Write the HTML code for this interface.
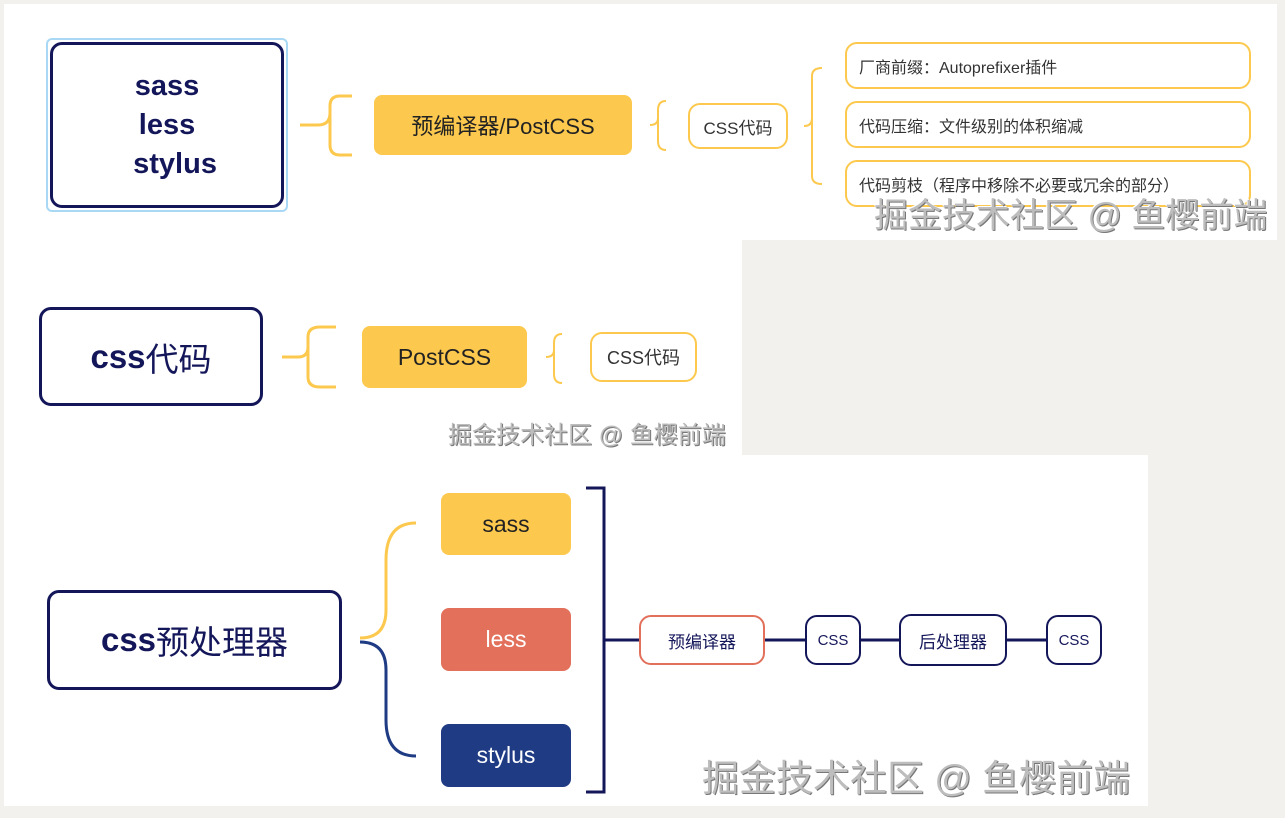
<!DOCTYPE html>
<html><head><meta charset="utf-8"><style>
*{margin:0;padding:0;box-sizing:border-box}
body{width:1285px;height:818px;background:#f2f1ee;position:relative;overflow:hidden;font-family:"Liberation Sans","Noto Sans CJK SC",sans-serif}
.p{position:absolute;background:#fff}
.b{position:absolute;display:flex;align-items:center;justify-content:center;text-align:center;color:#14165a}
.wm{position:absolute;color:#bdbdbd;font-family:"Liberation Sans","Noto Sans CJK SC",sans-serif;text-shadow:1px 1px 0 #777,-1px -1px 0 #fff;white-space:nowrap}
svg{position:absolute;left:0;top:0}
</style></head><body>
<div class="p" style="left:4px;top:4px;width:1273px;height:236px"></div>
<div class="p" style="left:4px;top:240px;width:738px;height:215px"></div>
<div class="p" style="left:4px;top:455px;width:1144px;height:351px"></div>

<svg width="1285" height="818" fill="none">
<path d="M300 125 H318 Q330 125 330 113 V106 Q330 96 340 96 H352 M330 137 V145 Q330 155 340 155 H352 M330 113 V137" stroke="#fcc94e" stroke-width="3"/>
<path d="M650 125 Q658 125 658 118 V110 Q658 101 666 101 M658 132 V141 Q658 150 666 150 M658 118 V132" stroke="#fcc94e" stroke-width="2"/>
<path d="M804 126 Q812 126 812 118 V76 Q812 68 822 68 M812 134 V176 Q812 184 822 184 M812 118 V134" stroke="#fcc94e" stroke-width="2"/>
<path d="M282 357 H298 Q308 357 308 347 V337 Q308 327 320 327 H336 M308 367 V377 Q308 387 320 387 H336 M308 347 V367" stroke="#fcc94e" stroke-width="3"/>
<path d="M546 357 Q554 357 554 350 V343 Q554 334 562 334 M554 364 V374 Q554 383 562 383 M554 350 V364" stroke="#fcc94e" stroke-width="2"/>
<path d="M360 638 Q386 638 386 610 V560 Q386 523 416 523" stroke="#fcc94e" stroke-width="3"/>
<path d="M360 642 Q386 642 386 670 V720 Q386 756 416 756" stroke="#1f3b84" stroke-width="3"/>
<path d="M586 488 H604 V792 H586" stroke="#14165a" stroke-width="3"/>
<path d="M604 640 H640 M764 640 H806 M860 640 H900 M1006 640 H1046" stroke="#14165a" stroke-width="3"/>
</svg>

<div class="b" style="left:46px;top:38px;width:242px;height:174px;border:2px solid #a9d8f5;border-radius:6px"></div>
<div class="b" style="left:50px;top:42px;width:234px;height:166px;border:3px solid #14165a;border-radius:12px;font-size:29px;font-weight:bold;line-height:39px">sass<br>less<br>&nbsp;&nbsp;stylus</div>
<div class="b" style="left:374px;top:95px;width:258px;height:60px;background:#fcc94e;border-radius:8px;font-size:22px;color:#222">预编译器/PostCSS</div>
<div class="b" style="left:688px;top:103px;width:100px;height:46px;border:2px solid #fcc94e;border-radius:12px;font-size:17px;color:#333">CSS代码</div>
<div class="b" style="left:845px;top:42px;width:406px;height:47px;border:2px solid #fcc94e;border-radius:12px;font-size:16px;color:#333;justify-content:flex-start;padding-left:12px">厂商前缀：Autoprefixer插件</div>
<div class="b" style="left:845px;top:101px;width:406px;height:47px;border:2px solid #fcc94e;border-radius:12px;font-size:16px;color:#333;justify-content:flex-start;padding-left:12px">代码压缩：文件级别的体积缩减</div>
<div class="b" style="left:845px;top:160px;width:406px;height:47px;border:2px solid #fcc94e;border-radius:12px;font-size:16px;color:#333;justify-content:flex-start;padding-left:12px">代码剪枝（程序中移除不必要或冗余的部分）</div>
<div class="wm" style="left:874px;top:188px;font-size:34px">掘金技术社区 @ 鱼樱前端</div>

<div class="b" style="left:39px;top:307px;width:224px;height:99px;border:3px solid #14165a;border-radius:12px;font-size:33px;font-weight:bold">css<span style="font-weight:normal">代码</span></div>
<div class="b" style="left:362px;top:326px;width:165px;height:62px;background:#fcc94e;border-radius:8px;font-size:23px;color:#222">PostCSS</div>
<div class="b" style="left:590px;top:332px;width:107px;height:50px;border:2px solid #fcc94e;border-radius:12px;font-size:18px;color:#333">CSS代码</div>
<div class="wm" style="left:448px;top:415px;font-size:24px">掘金技术社区 @ 鱼樱前端</div>

<div class="b" style="left:47px;top:590px;width:295px;height:100px;border:3px solid #14165a;border-radius:12px;font-size:33px"><b>css</b>预处理器</div>
<div class="b" style="left:441px;top:493px;width:130px;height:62px;background:#fcc94e;border-radius:8px;font-size:23px;color:#222">sass</div>
<div class="b" style="left:441px;top:608px;width:130px;height:63px;background:#e2705b;border-radius:8px;font-size:23px;color:#fff">less</div>
<div class="b" style="left:441px;top:724px;width:130px;height:63px;background:#1f3b84;border-radius:8px;font-size:23px;color:#fff">stylus</div>
<div class="b" style="left:639px;top:615px;width:126px;height:50px;border:2px solid #e2705b;border-radius:12px;font-size:17px">预编译器</div>
<div class="b" style="left:805px;top:615px;width:56px;height:50px;border:2px solid #14165a;border-radius:12px;font-size:15px">CSS</div>
<div class="b" style="left:899px;top:614px;width:108px;height:52px;border:2px solid #14165a;border-radius:12px;font-size:17px">后处理器</div>
<div class="b" style="left:1046px;top:615px;width:56px;height:50px;border:2px solid #14165a;border-radius:12px;font-size:15px">CSS</div>
<div class="wm" style="left:702px;top:748px;font-size:37px">掘金技术社区 @ 鱼樱前端</div>
</body></html>
